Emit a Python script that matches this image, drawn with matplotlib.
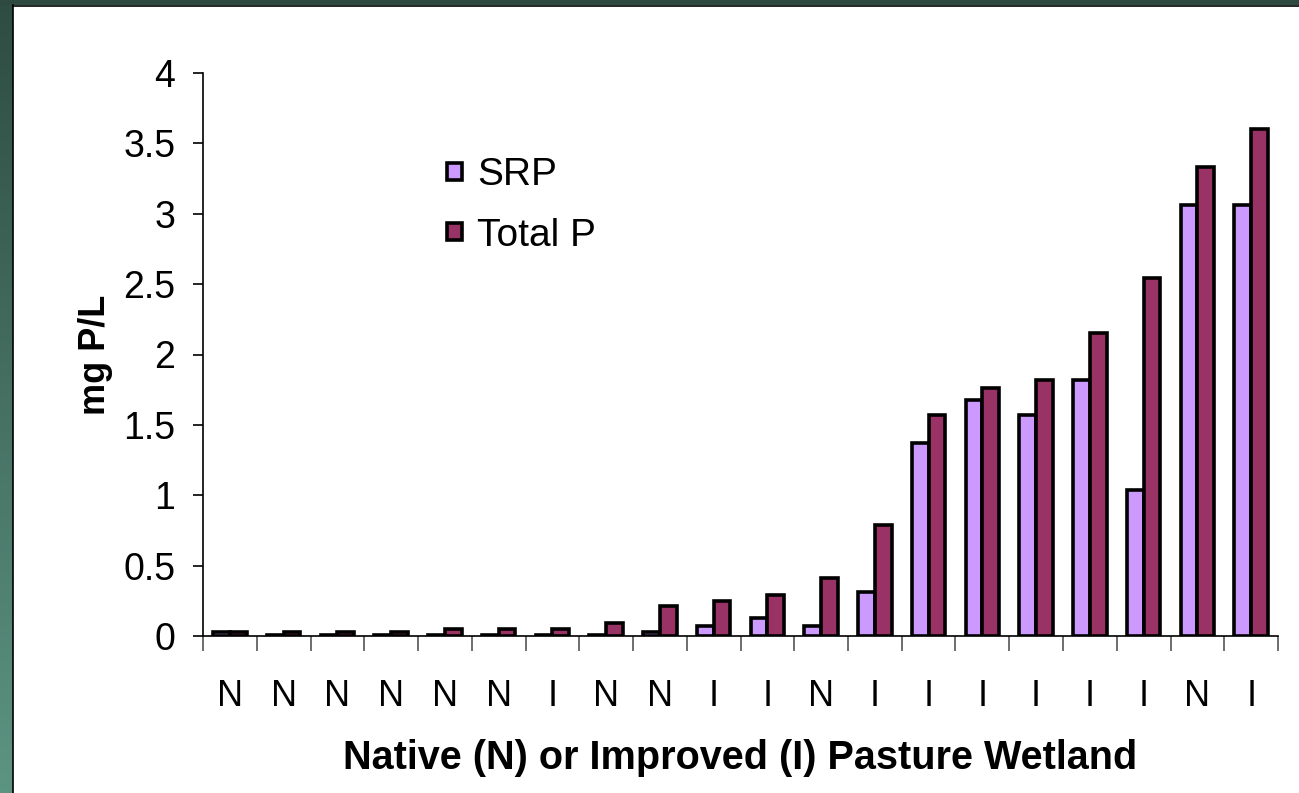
import numpy as np
import matplotlib.pyplot as plt
import matplotlib as mpl

mpl.rcParams['font.family'] = ['Liberation Sans', 'DejaVu Sans']

# site type labels and phosphorus concentrations (mg P/L)
sites = ["N", "N", "N", "N", "N", "N", "I", "N", "N", "I",
         "I", "N", "I", "I", "I", "I", "I", "I", "N", "I"]
srp = [0.03, 0.01, 0.01, 0.01, 0.01, 0.01, 0.01, 0.01, 0.03, 0.07,
       0.13, 0.07, 0.31, 1.37, 1.68, 1.57, 1.82, 1.04, 3.06, 3.06]
total_p = [0.03, 0.03, 0.03, 0.03, 0.05, 0.05, 0.05, 0.09, 0.21, 0.25,
           0.29, 0.41, 0.79, 1.57, 1.76, 1.82, 2.15, 2.54, 3.33, 3.60]

fig = plt.figure(figsize=(12.99, 7.93), dpi=100)
fig.patch.set_facecolor("white")

# slide border (green strips on left and top)
bl = fig.add_axes([0, 0, 13/1299, 1])
grad = np.linspace(0, 1, 256).reshape(-1, 1)
cm = mpl.colors.LinearSegmentedColormap.from_list("g", ["#2e4c42", "#5c9482"])
bl.imshow(grad, aspect="auto", cmap=cm, extent=[0, 1, 0, 1])
bl.axis("off")
bt = fig.add_axes([0, 1 - 5/793, 1, 5/793])
bt.set_facecolor("#2e4a40")
bt.set_xticks([]); bt.set_yticks([])
for s in bt.spines.values():
    s.set_visible(False)
fig.add_artist(plt.Line2D([13.5/1299, 13.5/1299], [0, 1 - 5/793], color="black", lw=1.2))
fig.add_artist(plt.Line2D([13.5/1299, 1], [1 - 5.5/793, 1 - 5.5/793], color="black", lw=1.2))

ax = fig.add_axes([203/1299, 157/793, 1075/1299, 563/793])
x = np.arange(len(sites))
w = 0.31
ax.bar(x - w/2, srp, w, color="#CC99FF", edgecolor="black", linewidth=2.6, label="SRP")
ax.bar(x + w/2, total_p, w, color="#993366", edgecolor="black", linewidth=2.6, label="Total P")

ax.set_xlim(-0.5, len(sites) - 0.5)
ax.set_ylim(0, 4)
ax.set_yticks(np.arange(0, 4.01, 0.5))
ax.yaxis.set_major_formatter(mpl.ticker.FuncFormatter(lambda v, p: f"{v:g}"))
ax.tick_params(axis="y", direction="out", length=7, width=1.2, labelsize=27, pad=13)

ax.set_xticks(x)
ax.set_xticklabels(sites)
ax.tick_params(axis="x", which="major", length=0, labelsize=26, pad=31)
ax.set_xticks(np.arange(-0.5, len(sites), 1), minor=True)
ax.tick_params(axis="x", which="minor", direction="out", length=11, width=1.2, color="#555555")

for s in ["top", "right"]:
    ax.spines[s].set_visible(False)
ax.spines["left"].set_linewidth(1.2)
ax.spines["bottom"].set_linewidth(1.2)

ax.set_ylabel("mg P/L", fontsize=26, fontweight="bold", labelpad=7)
ax.set_xlabel("Native (N) or Improved (I) Pasture Wetland", fontsize=28.5,
              fontweight="bold", labelpad=18)

ax.legend(loc="upper left", bbox_to_anchor=(0.227, 0.85), frameon=False, fontsize=28,
          borderpad=0, borderaxespad=0,
          handlelength=0.38, handleheight=0.32, handletextpad=0.4, labelspacing=0.62)

fig.savefig("out.png", dpi=100)
